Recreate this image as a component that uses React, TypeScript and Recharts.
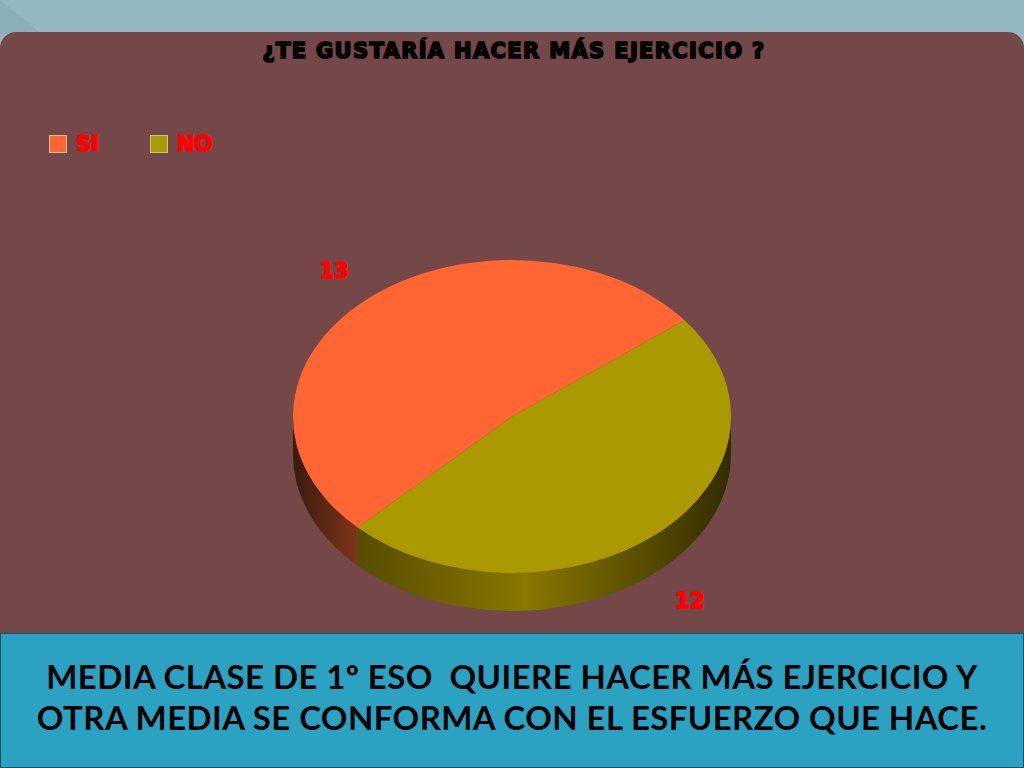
import React from 'react'
import { PieChart, Pie, Cell, Legend } from 'recharts'

const categories = ['SI', 'NO']
const values = [13, 12]
const topColors = ['#FF6633', '#AA9900']
const sideFills = ['url(#sideSi)', 'url(#sideNo)']

const chartTitle = '¿TE GUSTARÍA HACER MÁS EJERCICIO ?'
const captionLines = [
  'MEDIA CLASE DE 1º ESO  QUIERE HACER MÁS EJERCICIO Y',
  'OTRA MEDIA SE CONFORMA CON EL ESFUERZO QUE HACE.'
]

const chartData = categories.map((name, i) => ({ name, value: values[i] }))

const SQUASH = 156.5 / 219
const DEPTH = 38
const RADIAN = Math.PI / 180

const ellipsePoint = (cx: number, cy: number, r: number, deg: number) => ({
  x: cx + r * Math.cos(deg * RADIAN),
  y: cy - r * SQUASH * Math.sin(deg * RADIAN)
})

// top face of the slice, the circle flattened to an ellipse
const renderTop = (props: any) => {
  const { cx, cy, outerRadius: r, startAngle, endAngle, fill } = props
  const a = ellipsePoint(cx, cy, r, startAngle)
  const b = ellipsePoint(cx, cy, r, endAngle)
  const large = Math.abs(endAngle - startAngle) > 180 ? 1 : 0
  const d = `M${cx},${cy} L${a.x},${a.y} A${r},${r * SQUASH} 0 ${large} 0 ${b.x},${b.y} Z`
  return <path d={d} fill={fill} />
}

// only the front half of the rim can be seen (180 to 360 degrees)
const renderSide = (props: any) => {
  const { cx, cy, outerRadius: r, startAngle, endAngle, fill } = props
  const from = Math.max(startAngle, 180)
  const to = Math.min(endAngle, 360)
  if (to <= from) return <g />
  const a = ellipsePoint(cx, cy, r, from)
  const b = ellipsePoint(cx, cy, r, to)
  const ry = r * SQUASH
  const d =
    `M${a.x},${a.y} A${r},${ry} 0 0 0 ${b.x},${b.y} ` +
    `L${b.x},${b.y + DEPTH} A${r},${ry} 0 0 1 ${a.x},${a.y + DEPTH} Z`
  return <path d={d} fill={fill} />
}

const renderLabel = ({ cx, cy, midAngle, value }: any) => {
  const s = Math.sin(midAngle * RADIAN)
  const x = cx + 268 * Math.cos(midAngle * RADIAN)
  const y = cy - 195 * s + (s < 0 ? DEPTH + 1 : 0)
  return (
    <text
      x={x}
      y={y}
      fill="#FF0000"
      stroke="#FF0000"
      strokeWidth={1.6}
      textAnchor="middle"
      dominantBaseline="central"
      style={{ fontFamily: 'DejaVu Sans', fontWeight: 700, fontSize: 21 }}
    >
      {value}
    </text>
  )
}

const renderLegend = () => (
  <div style={{ position: 'relative', height: 20 }}>
    {categories.map((name, i) => (
      <React.Fragment key={name}>
        <span
          style={{
            position: 'absolute',
            left: i * 101,
            top: 1,
            width: 16,
            height: 16,
            background: topColors[i],
            border: '1px solid #D8C08E'
          }}
        />
        <span
          style={{
            position: 'absolute',
            left: 27 + i * 101,
            top: -2,
            color: '#FF0000',
            WebkitTextStroke: '1.6px #FF0000',
            fontFamily: 'DejaVu Sans',
            fontWeight: 700,
            fontSize: 21,
            lineHeight: '24px'
          }}
        >
          {name}
        </span>
      </React.Fragment>
    ))}
  </div>
)

export default function App() {
  return (
    <div style={{ position: 'absolute', left: 0, top: 0, width: 1024, height: 768, overflow: 'hidden', background: '#93B8C2' }}>
      <div style={{ position: 'absolute', left: 0, top: 0, width: 42, height: 34, background: '#8CB0BA', clipPath: 'polygon(0 0, 100% 100%, 0 100%)' }} />
      <div style={{ position: 'absolute', left: 0, top: 32, width: 1024, height: 736, background: '#744748', borderRadius: '16px 16px 0 0' }} />

      <div style={{ position: 'absolute', left: 0, top: 0 }}>
        <PieChart width={1024} height={768} margin={{ top: 0, right: 0, bottom: 0, left: 0 }}>
          <defs>
            <linearGradient id="sideSi" gradientUnits="userSpaceOnUse" x1={293} y1={0} x2={357} y2={0}>
              <stop offset="0%" stopColor="#3A1A10" />
              <stop offset="100%" stopColor="#7E3419" />
            </linearGradient>
            <linearGradient id="sideNo" gradientUnits="userSpaceOnUse" x1={357} y1={0} x2={731} y2={0}>
              <stop offset="0%" stopColor="#574B00" />
              <stop offset="45%" stopColor="#8A7700" />
              <stop offset="100%" stopColor="#332C00" />
            </linearGradient>
          </defs>
          <text
            x={514}
            y={51}
            textAnchor="middle"
            dominantBaseline="central"
            fill="#000000"
            stroke="#000000"
            strokeWidth={1.7}
            style={{ fontFamily: 'DejaVu Sans', fontWeight: 700, fontSize: 21, letterSpacing: 1.35 }}
          >
            {chartTitle}
          </text>
          <Pie
            data={chartData}
            dataKey="value"
            nameKey="name"
            cx={512}
            cy={416.5}
            outerRadius={219}
            startAngle={38}
            endAngle={398}
            stroke="none"
            legendType="none"
            shape={renderSide}
            isAnimationActive={false}
          >
            {chartData.map((entry, index) => (
              <Cell key={`side-${entry.name}`} fill={sideFills[index]} />
            ))}
          </Pie>
          <Pie
            data={chartData}
            dataKey="value"
            nameKey="name"
            cx={512}
            cy={416.5}
            outerRadius={219}
            startAngle={38}
            endAngle={398}
            stroke="none"
            shape={renderTop}
            label={renderLabel}
            labelLine={false}
            isAnimationActive={false}
          >
            {chartData.map((entry, index) => (
              <Cell key={`top-${entry.name}`} fill={topColors[index]} />
            ))}
          </Pie>
          <Legend
            content={renderLegend}
            wrapperStyle={{ position: 'absolute', left: 49, top: 134, width: 300, height: 20 }}
          />
        </PieChart>
      </div>

      <div style={{ position: 'absolute', left: 0, top: 633, width: 1022, height: 133, background: '#2CA2C3', border: '1px solid #14505F' }} />
      {captionLines.map((line, i) => (
        <div
          key={line}
          style={{
            position: 'absolute',
            left: 0,
            width: 1024,
            top: 656 + i * 41,
            textAlign: 'center',
            whiteSpace: 'pre',
            color: '#000000',
            fontFamily: 'Lato',
            fontWeight: 700,
            fontSize: 33,
            letterSpacing: 0.4,
            lineHeight: '41px'
          }}
        >
          {line}
        </div>
      ))}
    </div>
  )
}
